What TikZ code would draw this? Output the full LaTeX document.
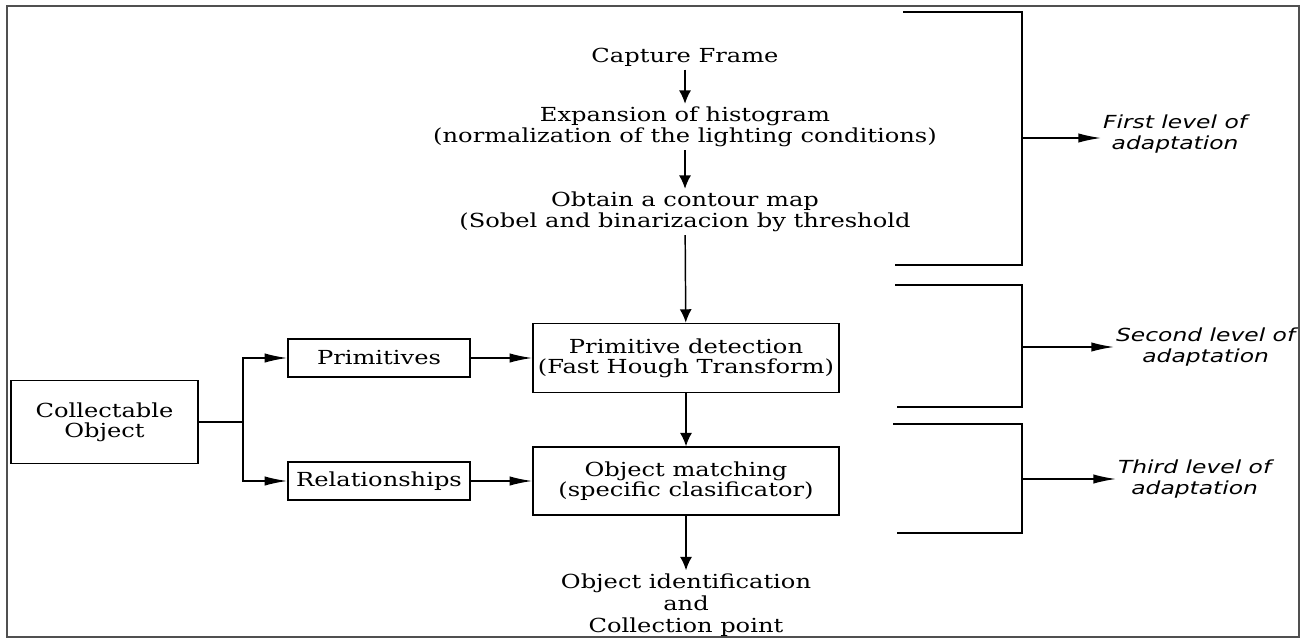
\documentclass[tikz,border=0pt]{standalone}
\usepackage{fontspec}
\setmainfont{DejaVu Serif}[FakeStretch=1.25]
\setsansfont{DejaVu Sans}[FakeStretch=1.3]
\usetikzlibrary{arrows.meta}

\tikzset{every picture/.style={line width=1.1pt}}
\tikzset{
	blk/.style={draw, inner sep=2pt, align=center, font=\fontsize{14.5}{15}\selectfont},
	txt/.style={inner sep=2pt, align=center, font=\fontsize{14.5}{15.5}\selectfont},
	lvl/.style={inner sep=1pt, align=center, font=\sffamily\itshape\fontsize{13.5}{15.5}\selectfont},
	arrv/.style={-{Latex[length=10pt,width=9pt]}},
	arrh/.style={-{Latex[length=17pt,width=7pt]}}
}

\begin{document}
\begin{tikzpicture}[x=0.75pt,y=0.75pt,yscale=-1,xscale=1]
	\useasboundingbox (0,0) rectangle (1302,640);
	%Frame
	\draw [line width=0.8pt, draw={rgb, 255:red, 80; green, 80; blue, 80 }] (7,6) rectangle (1299,637) ;

	% Text Node
	\node [txt] (cap) at (685,57) {Capture Frame};
	% Text Node
	\node [txt] (hist) at (685,127) {Expansion of histogram\\(normalization of the lighting conditions)};
	% Text Node
	\node [txt] (cont) at (685,212) {Obtain a contour map\\(Sobel and binarizacion by threshold};
	%Shape: Rectangle
	\node [blk, minimum width=229.5pt, minimum height=52pt] (det) at (686,358) {Primitive detection\\(Fast Hough Transform)};
	%Shape: Rectangle
	\node [blk, minimum width=229.5pt, minimum height=51pt] (match) at (686,481) {Object matching\\(specific clasificator)};
	% Text Node
	\node [txt, font=\fontsize{14.5}{16.5}\selectfont] (ident) at (686,605) {Object identification\\and\\Collection point};

	%Shape: Rectangle
	\node [blk, minimum width=140pt, minimum height=62pt] (coll) at (104.5,422) {Collectable\\Object};
	%Shape: Rectangle
	\node [blk, minimum width=136.5pt, minimum height=28.5pt] (prim) at (379,358) {Primitives};
	%Shape: Rectangle
	\node [blk, minimum width=136.5pt, minimum height=28.5pt] (rel) at (379,481) {Relationships};
	\coordinate (jn) at (243,422);

	%Straight Lines
	\draw [arrv] (cap) -- (hist) ;
	\draw [arrv] (hist) -- (cont) ;
	\draw [arrv] (cont) -- (det) ;
	\draw [arrv] (det) -- (match) ;
	\draw [arrv] (match) -- (ident) ;
	%Straight Lines
	\draw (coll) -- (jn) ;
	\draw [arrh] (jn) |- (prim) ;
	\draw [arrh] (jn) |- (rel) ;
	\draw [arrh] (prim) -- (det) ;
	\draw [arrh] (rel) -- (match) ;

	% Text Node
	\node [lvl, anchor=west] (lvl1) at (1101,134) {First level of\\adaptation};
	% Text Node
	\node [lvl, anchor=west] (lvl2) at (1114,347) {Second level of\\adaptation};
	% Text Node
	\node [lvl, anchor=west] (lvl3) at (1116,479) {Third level of\\adaptation};

	%Brackets
	\draw (903,12) -| (1022,265) -- (895,265) ;
	\draw (895,285) -| (1022,407) -- (897,407) ;
	\draw (893,424) -| (1022,533) -- (897,533) ;
	\coordinate (b1) at (1022,138);
	\coordinate (b2) at (1022,347);
	\coordinate (b3) at (1022,479);
	\draw [arrh] (b1) -- (b1 -| lvl1.west) ;
	\draw [arrh] (b2) -- (b2 -| lvl2.west) ;
	\draw [arrh] (b3) -- (b3 -| lvl3.west) ;

\end{tikzpicture}
\end{document}
